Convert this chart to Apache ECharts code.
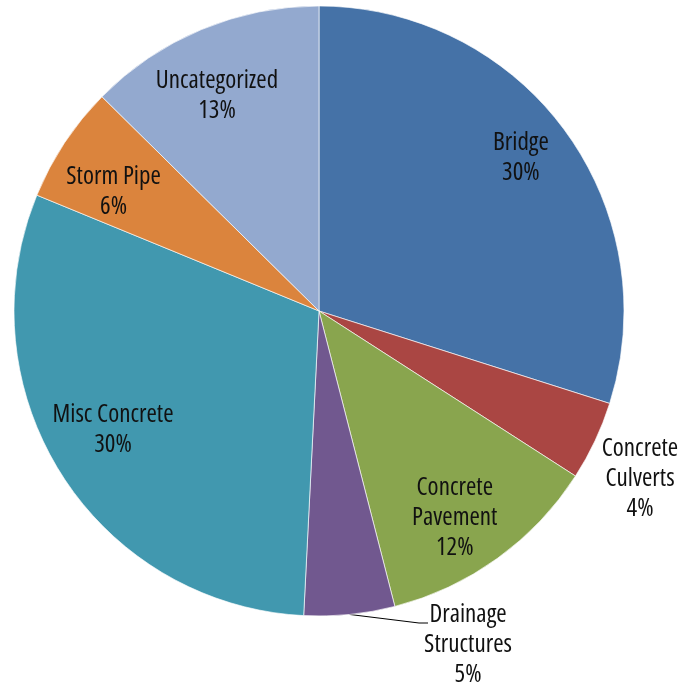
<!DOCTYPE html>
<html>
<head>
<meta charset="utf-8">
<script src="https://cdn.jsdelivr.net/npm/echarts@6/dist/echarts.min.js"></script>
<style>
html,body{margin:0;padding:0;background:#fff;}
#chart{width:688px;height:687px;}
</style>
</head>
<body>
<div id="chart"></div>
<script>
var categories = ['Bridge', 'Concrete\nCulverts', 'Concrete\nPavement', 'Drainage\nStructures', 'Misc Concrete', 'Storm Pipe', 'Uncategorized'];
var values = [29.9, 4.2, 11.9, 4.8, 30.4, 6.2, 12.6];
var colors = ['#4572A7', '#AA4643', '#89A54E', '#71588F', '#4198AF', '#DB843D', '#93A9CF'];

var FONT = '"Open Sans", sans-serif';
var CX = 319, CY = 311, R = 305;
// label nudges (dx, dy) for inside labels
var nudges = [[5, -9], [0, 0], [-7, 9], [0, 0], [0, -12], [-2, 15], [-8, 10]];

var baseData = categories.map(function (c, i) {
  return { name: c, value: values[i], itemStyle: { color: colors[i] } };
});

var labelData = categories.map(function (c, i) {
  var d = { name: c, value: values[i] };
  if (i === 1) {
    d.label = { position: 'outside' };
    d.labelLine = { show: false };
  } else if (i === 3) {
    d.label = { position: 'outside' };
    d.labelLine = { show: true, length: 10, length2: 70, lineStyle: { color: '#000', width: 1 } };
  }
  return d;
});

var chart = echarts.init(document.getElementById('chart'), null, { renderer: 'canvas' });
chart.setOption({
  backgroundColor: '#fff',
  animation: false,
  series: [
    {
      type: 'pie',
      center: [CX, CY],
      radius: [0, R],
      startAngle: 90,
      clockwise: true,
      silent: true,
      label: { show: false },
      labelLine: { show: false },
      itemStyle: { borderColor: 'rgba(255,255,255,0.8)', borderWidth: 0.8 },
      data: baseData
    },
    {
      type: 'pie',
      center: [CX, CY],
      radius: [R * 0.58, R],
      startAngle: 90,
      clockwise: true,
      silent: true,
      percentPrecision: 0,
      itemStyle: { color: 'rgba(0,0,0,0)' },
      label: {
        show: true,
        position: 'inside',
        formatter: '{b}\n{d}%',
        fontFamily: FONT,
        fontWeight: 'normal condensed',
        fontSize: 25,
        lineHeight: 30,
        color: '#111',
        align: 'center',
        overflow: 'none'
      },
      labelLayout: function (p) {
        if (p.dataIndex === 1) {
          return { x: CX + 321, y: CY + 168, align: 'center', verticalAlign: 'middle' };
        }
        if (p.dataIndex === 3) {
          var p0 = p.labelLinePoints ? p.labelLinePoints[0] : [CX + 31, CY + 303];
          return {
            x: CX + 149, y: CY + 334, align: 'center', verticalAlign: 'middle',
            labelLinePoints: [p0, [CX + 100, CY + 312], [CX + 109, CY + 312]]
          };
        }
        var n = nudges[p.dataIndex];
        return { dx: n[0], dy: n[1] };
      },
      data: labelData
    }
  ]
});
</script>
</body>
</html>
